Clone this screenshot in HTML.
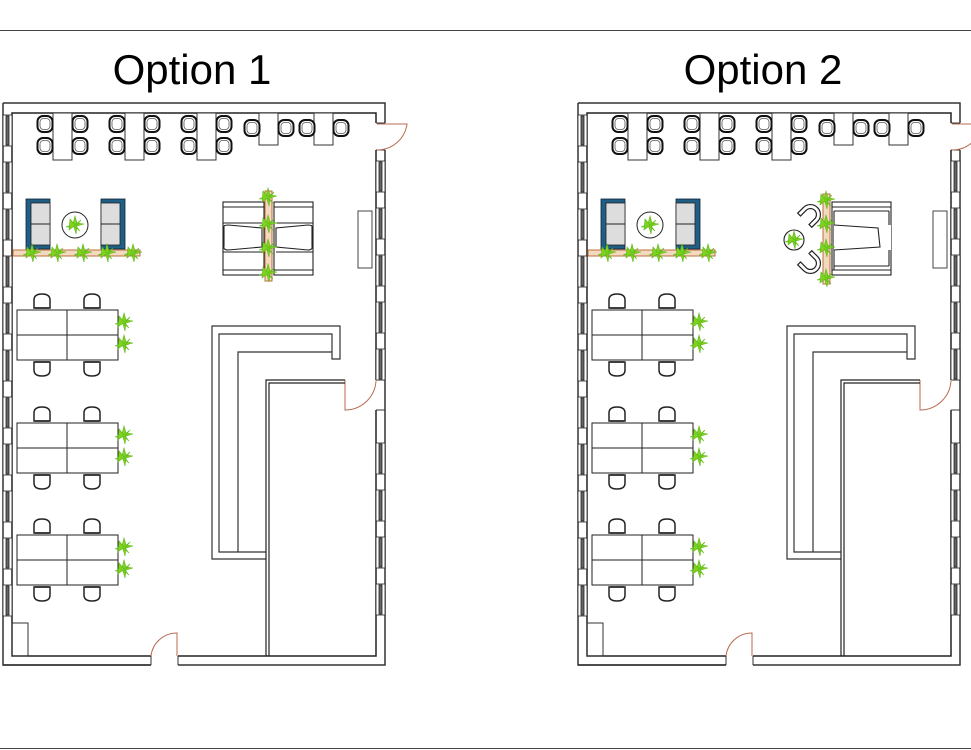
<!DOCTYPE html>
<html><head><meta charset="utf-8"><style>
html,body{margin:0;padding:0;background:#fff;}
svg{display:block;}
</style></head><body>
<svg width="971" height="750" viewBox="0 0 971 750" xmlns="http://www.w3.org/2000/svg">
<defs>
<g id="ch"><rect x="-7.5" y="-8" width="15" height="16" rx="5.5" fill="#fff" stroke="#111" stroke-width="2"/><rect x="-5" y="-5.5" width="10" height="11" rx="3.5" fill="none" stroke="#555" stroke-width="0.8"/></g>
<g id="dch"><path d="M-8,6 L-8,-2 Q-8,-8 0,-8 Q8,-8 8,-2 L8,6 Z" fill="#fff" stroke="#222" stroke-width="1.5"/><line x1="-7" y1="6" x2="7" y2="6" stroke="#222" stroke-width="1.5"/></g>
<g id="uch" fill="#fff" stroke="#222" stroke-width="1.2"><path d="M-10,-6 L-10,2 A10,10 0 0 0 10,2 L10,-6 L6,-6 L6,2 A6,6 0 0 1 -6,2 L-6,-6 Z"/></g>
<g id="pl" fill="#7ed321" stroke="#5fb818" stroke-width="0.6"><path d="M0,-9 L2,-2 L9,-1 L2,1 L1,9 L-1,2 L-9,2 L-2,-1 Z"/><path d="M-5,-6 L0,0 L6,-5 L1,1 L5,6 L-1,1 L-6,5 Z"/></g>
<g id="win"><rect x="0" y="0" width="9" height="31" fill="#fff" stroke="#222" stroke-width="0.8"/><rect x="3" y="1" width="3" height="29" fill="#666" stroke="#222" stroke-width="0.8"/></g>
<g id="desk">
<rect x="17" y="0" width="101" height="50" fill="#fff" stroke="#222" stroke-width="1"/>
<line x1="67" y1="0" x2="67" y2="50" stroke="#222"/><line x1="17" y1="25" x2="118" y2="25" stroke="#222"/>
<use href="#dch" x="42" y="-8"/><use href="#dch" x="92" y="-8"/>
<use href="#dch" x="42" y="58" transform="rotate(180 42 58)"/><use href="#dch" x="92" y="58" transform="rotate(180 92 58)"/>
<use href="#pl" x="124" y="12"/><use href="#pl" x="124" y="34"/>
</g>
<g id="plan">
<path d="M3,103 H385 V123 M385,150 V665 H178 M151,665 H3 Z" fill="none" stroke="#333" stroke-width="1.5"/>
<path d="M3,103 V665 H151" fill="none" stroke="#333" stroke-width="1.5"/>
<path d="M376,123 V113 H12 V656 H151 M178,656 H376 V410 M376,380 V150" fill="none" stroke="#222" stroke-width="1.5"/>
<path d="M376,123 H385 M376,150 H385 M376,380 H385 M376,410 H385 M151,656 V665 M178,656 V665" stroke="#333" stroke-width="1"/>
<rect x="12" y="623" width="16" height="33" fill="none" stroke="#333"/>
<path d="M377,124 H407 A30,30 0 0 1 377,150" fill="none" stroke="#b86a50" stroke-width="1"/>
<path d="M177,656 V633 A26,26 0 0 0 151,656" fill="none" stroke="#b86a50" stroke-width="1"/>
<path d="M345,380 V410 A31,31 0 0 0 376,381" fill="none" stroke="#b86a50" stroke-width="1"/>
<use href="#win" x="3" y="115"/><use href="#win" x="3" y="162"/><use href="#win" x="3" y="209"/><use href="#win" x="3" y="256"/><use href="#win" x="3" y="303"/><use href="#win" x="3" y="350"/><use href="#win" x="3" y="397"/><use href="#win" x="3" y="444"/><use href="#win" x="3" y="491"/><use href="#win" x="3" y="538"/><use href="#win" x="3" y="585"/>
<use href="#win" x="376" y="161"/><use href="#win" x="376" y="208"/><use href="#win" x="376" y="255"/><use href="#win" x="376" y="302"/><use href="#win" x="376" y="349"/><use href="#win" x="376" y="443"/><use href="#win" x="376" y="490"/><use href="#win" x="376" y="537"/><use href="#win" x="376" y="584"/>
<g fill="#fff" stroke="#333" stroke-width="1">
<rect x="53" y="113" width="19" height="47"/><rect x="125" y="113" width="19" height="47"/><rect x="197" y="113" width="19" height="47"/>
<rect x="259" y="113" width="19" height="32"/><rect x="314" y="113" width="19" height="32"/>
</g>
<use href="#ch" x="45" y="124"/><use href="#ch" x="80" y="124"/><use href="#ch" x="45" y="146"/><use href="#ch" x="80" y="146"/>
<use href="#ch" x="117" y="124"/><use href="#ch" x="152" y="124"/><use href="#ch" x="117" y="146"/><use href="#ch" x="152" y="146"/>
<use href="#ch" x="189" y="124"/><use href="#ch" x="224" y="124"/><use href="#ch" x="189" y="146"/><use href="#ch" x="224" y="146"/>
<use href="#ch" x="252" y="128"/><use href="#ch" x="286" y="128"/><use href="#ch" x="307" y="128"/><use href="#ch" x="341" y="128"/>
<rect x="26" y="199" width="24" height="50" fill="#1f5f86" stroke="#123" stroke-width="0.8"/>
<rect x="31" y="203" width="19" height="42" fill="#ddd" stroke="#222" stroke-width="0.8"/><line x1="31" y1="224" x2="50" y2="224" stroke="#222"/>
<rect x="101" y="199" width="24" height="50" fill="#1f5f86" stroke="#123" stroke-width="0.8"/>
<rect x="101" y="203" width="19" height="42" fill="#ddd" stroke="#222" stroke-width="0.8"/><line x1="101" y1="224" x2="120" y2="224" stroke="#222"/>
<circle cx="75" cy="225" r="13" fill="#fff" stroke="#222"/><use href="#pl" x="75" y="225"/>
<rect x="13" y="250" width="127" height="6" fill="#f3d9c0" stroke="#b8703a" stroke-width="1"/>
<use href="#pl" x="32" y="253"/><use href="#pl" x="57" y="253"/><use href="#pl" x="83" y="253"/><use href="#pl" x="107" y="253"/><use href="#pl" x="133" y="253"/>
<rect x="358" y="211" width="14" height="57" fill="#fff" stroke="#444"/>
<use href="#desk" y="310"/><use href="#desk" y="423"/><use href="#desk" y="535"/>
<path d="M266,559 H212 V326 H340 V359 H332 V334 H219 V552 H266" fill="none" stroke="#333" stroke-width="1.2"/>
<path d="M238,552 V352 H332" fill="none" stroke="#333" stroke-width="1.2"/>
<path d="M266,656 V380 H345 M269,656 V383 H345" fill="none" stroke="#222" stroke-width="1.2"/>
</g>
</defs>
<line x1="0" y1="30.5" x2="971" y2="30.5" stroke="#444"/>
<line x1="0" y1="748.5" x2="971" y2="748.5" stroke="#444"/>
<text x="192" y="84" font-family="Liberation Sans, Arial, sans-serif" font-size="42" text-anchor="middle">Option 1</text>
<text x="763" y="84" font-family="Liberation Sans, Arial, sans-serif" font-size="42" text-anchor="middle">Option 2</text>
<use href="#plan"/>
<use href="#plan" x="575"/>
<g fill="#fff" stroke="#222" stroke-width="1.1">
<rect x="223" y="202" width="41" height="73"/><line x1="223" y1="207" x2="264" y2="207"/><line x1="223" y1="223" x2="262" y2="223"/>
<path d="M224,228 Q223,225 228,225 L262,228 L262,247 L228,250 Q223,250 224,246 Z"/>
<line x1="223" y1="252" x2="262" y2="252"/><line x1="223" y1="270" x2="264" y2="270"/>
<rect x="274" y="202" width="39" height="73"/><line x1="274" y1="207" x2="313" y2="207"/><line x1="276" y1="223" x2="313" y2="223"/>
<path d="M312,228 Q313,225 308,225 L276,228 L276,247 L308,250 Q313,250 312,246 Z"/>
<line x1="276" y1="252" x2="313" y2="252"/><line x1="274" y1="270" x2="313" y2="270"/>
</g>
<rect x="265" y="191" width="7" height="90" fill="#f3d9c0" stroke="#b8703a"/>
<use href="#pl" x="268" y="197"/><use href="#pl" x="268" y="224"/><use href="#pl" x="268" y="248"/><use href="#pl" x="268" y="273"/>
<g fill="#fff" stroke="#222" stroke-width="1.1">
<rect x="832" y="202" width="59" height="73"/><line x1="832" y1="207" x2="891" y2="207"/><line x1="834" y1="211" x2="889" y2="211"/><line x1="834" y1="211" x2="834" y2="270"/>
<line x1="889" y1="211" x2="889" y2="225"/><line x1="889" y1="250" x2="889" y2="266"/>
<rect x="869" y="225" width="22" height="25" stroke="none"/>
<path d="M834,225 L878,228 L880,247 L834,250"/>
<line x1="834" y1="266" x2="889" y2="266"/><line x1="832" y1="270" x2="891" y2="270"/>
<circle cx="794" cy="240" r="10"/>
</g>
<use href="#uch" transform="translate(809,216) rotate(-135)"/>
<use href="#uch" transform="translate(809,262) rotate(-45)"/>
<use href="#pl" x="794" y="240"/>
<rect x="823" y="194" width="7" height="90" fill="#f3d9c0" stroke="#b8703a"/>
<use href="#pl" x="826" y="200"/><use href="#pl" x="826" y="224"/><use href="#pl" x="826" y="248"/><use href="#pl" x="826" y="278"/>
</svg>
</body></html>
